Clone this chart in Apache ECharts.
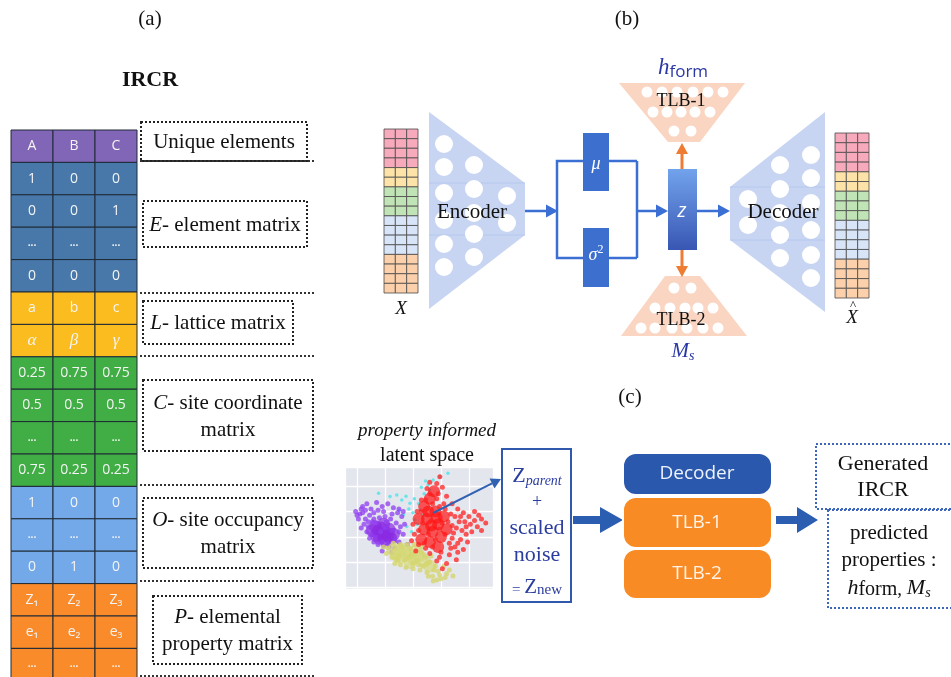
<!DOCTYPE html>
<html>
<head>
<meta charset="utf-8">
<script src="https://cdn.jsdelivr.net/npm/echarts@6/dist/echarts.min.js"></script>
<style>
  html, body { margin: 0; padding: 0; background: #fff; }
  #main { width: 951px; height: 677px; }
</style>
</head>
<body>
<div id="main"></div>
<script>
// ---------- data ----------
// (a) IRCR table, one block per matrix
const uniqueRow = [['A', 'B', 'C']];
const elementRows = [['1', '0', '0'], ['0', '0', '1'], ['...', '...', '...'], ['0', '0', '0']];
const latticeRows = [['a', 'b', 'c'], ['α', 'β', 'γ']];
const coordRows = [['0.25', '0.75', '0.75'], ['0.5', '0.5', '0.5'], ['...', '...', '...'], ['0.75', '0.25', '0.25']];
const occupancyRows = [['1', '0', '0'], ['...', '...', '...'], ['0', '1', '0']];
const propertyRows = [['Z₁', 'Z₂', 'Z₃'], ['e₁', 'e₂', 'e₃'], ['...', '...', '...']];
const matrixLabels = [
  'Unique elements',
  '{i|E-} element matrix',
  '{i|L-} lattice matrix',
  '{i|C-} site coordinate\nmatrix',
  '{i|O-} site occupancy\nmatrix',
  '{i|P-} elemental\nproperty matrix'
];
// (b) rows per colour band in X and X-hat
const bandRows = [4, 2, 3, 4, 4];
// (c) latent space scatter
const purpleCore = [[0.75,2.2],[0.9,2.05],[1.05,2.15],[0.85,2.35],[1.2,1.95],[0.65,2.4],[1.0,1.9],[1.15,2.3],[0.95,2.5],[0.8,1.95],[1.3,2.1],[0.55,2.25],[1.1,2.05],[0.7,2.05]];
const purpleSpread = [[-0.05,3.0],[0.1,2.9],[0.2,3.2],[0.35,3.3],[0.5,3.1],[0.7,3.35],[0.9,3.2],[1.1,3.3],[1.3,3.15],[1.5,3.1],[1.6,2.8],[0.3,2.7],[0.45,2.85],[0.6,2.95],[0.8,2.75],[1.0,2.8],[1.2,2.7],[1.4,2.55],[1.55,2.4],[0.25,2.5],[0.4,2.6],[0.35,2.2],[0.45,1.95],[0.6,1.8],[0.75,1.7],[0.95,1.65],[1.15,1.6],[1.35,1.55],[1.5,1.8],[1.65,2.1],[1.8,1.7],[1.25,1.4],[0.9,1.45],[0.15,2.35],[0.55,2.6],[1.05,2.6],[1.45,2.95],[0.75,3.05],
  [0.5,2.1],[0.65,2.0],[0.85,2.2],[1.0,2.35],[1.25,2.25],[0.7,2.55],[0.9,1.8],[1.1,1.75],[0.4,2.4],[1.35,1.85],[1.5,2.2],[0.6,2.7],[0.2,2.95],[0.95,3.0],[1.25,2.9],[0.3,3.05],[1.7,2.5],[0.05,2.7],[0.0,2.85],[0.15,3.1],[1.65,3.0]];
const cyanPoints = [[0.77,3.72],[1.18,3.59],[1.42,3.65],[1.6,3.45],[1.89,3.32],[2.05,3.5],[2.25,3.06],[2.0,2.95],[1.66,2.87],[2.07,2.67],[1.78,2.41],[2.54,4.04],[2.72,4.24],[2.96,4.37],[3.25,4.5],[2.4,3.7],[2.6,3.85],[1.85,3.1],[2.2,3.3],[1.5,3.05],[2.35,2.85],[2.15,2.5],[1.95,2.2],[2.45,4.2],[2.3,3.95],[1.75,3.6]];
const yellowCore = [[1.4,1.3],[1.6,1.2],[1.8,1.35],[2.0,1.15],[1.7,1.5],[2.2,1.25],[1.5,1.45],[2.4,1.05],[1.9,1.0],[2.1,1.45],[1.3,1.5],[2.6,0.85]];
const yellowSpread = [[1.1,1.55],[1.25,1.2],[1.35,0.95],[1.55,0.9],[1.75,0.8],[2.0,0.75],[2.25,0.7],[2.5,0.6],[2.7,0.45],[2.72,0.26],[2.95,0.5],[3.2,0.55],[3.43,0.46],[3.1,0.85],[2.8,0.85],[2.6,1.0],[2.4,1.3],[2.65,1.25],[2.3,1.6],[2.05,1.7],[1.8,1.7],[1.55,1.7],[1.3,1.75],[1.05,1.35],[2.9,0.65],[1.45,1.05],[1.95,1.3],[2.35,0.85],[3.3,0.7],[0.95,1.6],
  [1.5,1.25],[1.7,1.1],[1.85,1.2],[2.15,1.05],[2.3,1.4],[1.6,1.6],[2.5,0.95],[2.75,0.7],[1.4,1.15],[2.0,0.95],[2.45,1.2],[1.9,1.55],[3.0,0.35],[2.2,0.9],[2.85,0.3],[3.15,0.4],[2.55,0.45]];
const redCore = [[2.4,3.2],[2.6,3.5],[2.8,3.0],[2.5,2.7],[2.9,2.5],[3.1,2.8],[2.7,2.2],[3.0,2.0],[2.4,2.3],[2.2,2.7],[2.6,1.8],[2.9,1.6],[3.2,2.3],[2.75,3.8],[2.3,1.9],[2.55,3.0],[2.85,2.75],[2.65,2.45]];
const redSpread = [[2.96,4.37],[2.85,4.1],[2.6,4.15],[3.05,3.95],[3.2,3.6],[3.4,3.3],[3.6,3.1],[3.8,2.95],[4.0,2.8],[4.2,3.0],[4.45,2.7],[4.6,2.55],[4.3,2.4],[3.9,2.4],[3.65,2.6],[3.45,2.15],[3.7,1.9],[3.95,1.8],[3.5,1.6],[3.3,1.3],[3.55,1.1],[3.2,0.95],[3.05,0.75],[2.85,1.05],[2.6,1.35],[2.45,1.55],[2.2,1.7],[2.05,2.1],[2.0,2.5],[2.15,3.0],[2.3,3.45],[2.5,3.9],[3.35,2.9],[3.1,3.3],[3.55,2.35],[4.1,2.2],[2.1,1.45],[1.95,1.85],[3.8,1.5],[4.35,2.85],[3.3,1.75],[2.95,1.2],
  [2.3,3.0],[2.45,2.9],[2.7,3.3],[2.85,3.5],[2.95,3.2],[3.05,2.55],[3.15,2.1],[2.8,1.9],[2.55,2.1],[2.35,2.55],[2.65,2.65],[2.95,2.3],[3.25,2.6],[2.7,1.6],[3.0,1.4],[2.4,1.75],[2.2,2.25],[3.4,2.45],[3.5,2.8],[3.75,2.25],[2.9,3.7],[2.6,3.7],[3.15,3.1],[2.45,3.45],[3.4,1.95],[3.6,1.4],[3.85,2.6],[4.05,2.5],
  [3.9,2.1],[4.2,2.65],[3.6,1.75],[3.35,1.55],[3.7,2.8],[4.45,2.25]];

// ---------- styles ----------
const blockColors = ['#8165b6', '#4878a9', '#fbbc1f', '#41ad45', '#73a8e9', '#f98b2b'];
const pastelColors = ['#f7aabb', '#fde3a8', '#c1e4b7', '#d8e5f8', '#fbd0ab'];
const SERIF = '"Liberation Serif", "DejaVu Serif", serif';
const SANS = '"Open Sans", "Noto Sans", sans-serif';

// build table cells
const tableBlocks = [uniqueRow, elementRows, latticeRows, coordRows, occupancyRows, propertyRows];
const cellData = [];
const cellText = [];
let rowIdx = 0;
tableBlocks.forEach(function (block, b) {
  block.forEach(function (row) {
    row.forEach(function (t, c) {
      cellData.push([c, rowIdx, b]);
      cellText.push(t);
    });
    rowIdx++;
  });
});
const tableRowNames = Array.from({ length: rowIdx }, (_, i) => 'r' + i);

// build X / X-hat cells
const xCells = [];
let xRow = 0;
bandRows.forEach(function (n, b) {
  for (let k = 0; k < n; k++) {
    for (let c = 0; c < 3; c++) xCells.push([c, xRow, b]);
    xRow++;
  }
});
const xRowNames = Array.from({ length: xRow }, (_, i) => 'x' + i);

function tableItem(params, api) {
  const p = api.coord([api.value(0), api.value(1)]);
  const s = api.size([1, 1]);
  const b = api.value(2);
  const t = cellText[params.dataIndex];
  let font = '14px ' + SANS;
  if (t === '...') font = 'bold 10px ' + SANS;
  if (b === 2 && api.value(1) === 6) font = 'italic 17px ' + SERIF;
  return {
    type: 'group',
    children: [
      { type: 'rect', shape: { x: p[0] - s[0] / 2, y: p[1] - s[1] / 2, width: s[0], height: s[1] },
        style: { fill: blockColors[b], stroke: '#1e2a36', lineWidth: 1 } },
      { type: 'text', style: { text: t, x: p[0], y: p[1], align: 'center', verticalAlign: 'middle',
        fill: '#f4f4f4', font: font } }
    ]
  };
}

function xItem(params, api) {
  const p = api.coord([api.value(0), api.value(1)]);
  const s = api.size([1, 1]);
  return {
    type: 'rect',
    shape: { x: p[0] - s[0] / 2, y: p[1] - s[1] / 2, width: s[0], height: s[1] },
    style: { fill: pastelColors[api.value(2)], stroke: '#4a4a4a', lineWidth: 0.8 }
  };
}

// ---------- graphic helpers ----------
const G = [];
function txt(str, x, y, font, fill, extra) {
  G.push({ type: 'text', z: 20, style: Object.assign({ text: str, x: x, y: y, font: font, fill: fill || '#111',
    align: 'center', verticalAlign: 'middle' }, extra || {}) });
}
function box(x, y, w, h, stroke, dash, r) {
  G.push({ type: 'rect', z: 5, shape: { x: x, y: y, width: w, height: h, r: r || 0 },
    style: { fill: 'none', stroke: stroke, lineWidth: 2, lineDash: dash } });
}
function fillRect(x, y, w, h, fill, r, z) {
  G.push({ type: 'rect', z: z || 5, shape: { x: x, y: y, width: w, height: h, r: r || 0 }, style: { fill: fill, stroke: '#fff', lineWidth: r ? 2 : 0 } });
}
function poly(points, fill, z) {
  G.push({ type: 'polygon', z: z || 3, shape: { points: points }, style: { fill: fill } });
}
function dots(list, r, fill) {
  list.forEach(function (d) { G.push({ type: 'circle', z: 4, shape: { cx: d[0], cy: d[1], r: r }, style: { fill: fill } }); });
}
function seg(x1, y1, x2, y2, stroke, w, dash, z) {
  G.push({ type: 'line', z: z || 6, shape: { x1: x1, y1: y1, x2: x2, y2: y2 }, style: { stroke: stroke, lineWidth: w, lineDash: dash } });
}
function polyline(points, stroke, w) {
  G.push({ type: 'polyline', z: 6, shape: { points: points }, style: { stroke: stroke, lineWidth: w, fill: 'none' } });
}
function arrow(x1, y1, x2, y2, color, w, head, z) {
  const a = Math.atan2(y2 - y1, x2 - x1);
  const bx = x2 - Math.cos(a) * head, by = y2 - Math.sin(a) * head;
  seg(x1, y1, bx, by, color, w, null, z);
  const hw = head * 0.55;
  poly([[x2, y2], [bx - Math.sin(a) * hw, by + Math.cos(a) * hw], [bx + Math.sin(a) * hw, by - Math.cos(a) * hw]], color, z || 6);
}

// ---------- (a) ----------
txt('(a)', 150, 19, '21px ' + SERIF);
txt('IRCR', 150, 80, 'bold 22px ' + SERIF);
const labelBoxes = [[141, 122, 166, 39], [143, 201, 164, 46], [143, 301, 150, 43], [143, 380, 170, 71], [143, 498, 170, 70], [153, 596, 149, 68]];
labelBoxes.forEach(function (bx, i) {
  box(bx[0], bx[1], bx[2], bx[3], '#222', [2, 2]);
  txt(matrixLabels[i], bx[0] + bx[2] / 2, bx[1] + bx[3] / 2 + 1, '21px ' + SERIF, '#111',
    { lineHeight: 27, rich: { i: { font: 'italic 21px ' + SERIF, fill: '#111' } } });
});
[161, 293, 356, 485, 581, 676].forEach(function (y) { seg(140, y, 316, y, '#333', 2, [2, 2]); });

// ---------- (b) ----------
txt('(b)', 627, 19, '21px ' + SERIF);
const ENC = '#c7d5f2';
poly([[429, 112], [525, 183], [525, 235], [429, 309]], ENC);
seg(429, 183, 525, 183, '#b6c8ee', 1, null, 3);
seg(429, 235, 525, 235, '#b6c8ee', 1, null, 3);
dots([[444, 144], [444, 167], [444, 193], [444, 220], [444, 244], [444, 267],
  [474, 165], [474, 189], [474, 213], [474, 234], [474, 257], [507, 196], [507, 223]], 9, '#fff');
txt('Encoder', 472, 212, '21px ' + SERIF);

poly([[730, 187], [825, 112], [825, 312], [730, 240]], ENC);
seg(730, 187, 825, 187, '#b6c8ee', 1, null, 3);
seg(730, 240, 825, 240, '#b6c8ee', 1, null, 3);
dots([[748, 199], [748, 225], [780, 165], [780, 189], [780, 213], [780, 235], [780, 258],
  [811, 155], [811, 178], [811, 203], [811, 230], [811, 255], [811, 278]], 9, '#fff');
txt('Decoder', 783, 212, '21px ' + SERIF);

const BLUE = '#3b6fd4';
arrow(525, 211, 558, 211, BLUE, 2.5, 12);
polyline([[637, 161], [557, 161], [557, 258], [637, 258]], BLUE, 2.5);
seg(637, 161, 637, 258, BLUE, 2.5);
arrow(637, 211, 668, 211, BLUE, 2.5, 12);
fillRect(583, 133, 26, 58, '#3d6fcf', 0, 7);
fillRect(583, 228, 26, 59, '#3d6fcf', 0, 7);
txt('μ', 596, 164, 'italic 18px ' + SERIF, '#fff');
txt('{s|σ}{p|2}', 596, 255, 'italic 18px ' + SERIF, '#fff',
  { rich: { s: { font: 'italic 18px ' + SERIF, fill: '#fff' }, p: { font: '12px ' + SERIF, fill: '#fff', verticalAlign: 'top', lineHeight: 22 } } });
G.push({ type: 'rect', z: 7, shape: { x: 668, y: 169, width: 29, height: 81 },
  style: { fill: new echarts.graphic.LinearGradient(0, 0, 0, 1, [{ offset: 0, color: '#72a3ec' }, { offset: 1, color: '#3856b3' }]) } });
txt('z', 682, 211, 'italic 20px ' + SANS, '#fff');
arrow(697, 211, 730, 211, BLUE, 2.5, 12);

const ORANGE = '#ee7d33';
arrow(682, 169, 682, 143, ORANGE, 3, 11);
arrow(682, 250, 682, 277, ORANGE, 3, 11);

const PEACH = '#fad5c1';
poly([[619, 83], [745, 83], [700, 142], [668, 142]], PEACH);
dots([[647, 92], [662, 92], [677, 92], [693, 92], [708, 92], [723, 92],
  [653, 112], [667, 112], [681, 112], [695, 112], [710, 112], [674, 131], [691, 131]], 5.5, '#fff');
txt('TLB-1', 681, 101, '18px ' + SERIF);
poly([[665, 276], [700, 276], [747, 336], [621, 336]], PEACH);
dots([[674, 288], [691, 288], [655, 308], [670, 308], [685, 308], [698, 308], [713, 308],
  [641, 328], [655, 328], [672, 328], [687, 328], [703, 328], [718, 328]], 5.5, '#fff');
txt('TLB-2', 681, 320, '18px ' + SERIF);

const NAVY = '#2a37a6';
txt('{i|h}{s|form}', 683, 68, '20px ' + SERIF, NAVY,
  { rich: { i: { font: 'italic 23px ' + SERIF, fill: NAVY, lineHeight: 26 }, s: { font: '17px ' + SANS, fill: NAVY, verticalAlign: 'bottom', lineHeight: 18 } } });
txt('{i|M}{s|s}', 683, 351, '20px ' + SERIF, NAVY,
  { rich: { i: { font: 'italic 21px ' + SERIF, fill: NAVY, lineHeight: 24 }, s: { font: 'italic 14px ' + SERIF, fill: NAVY, verticalAlign: 'bottom', lineHeight: 14 } } });
txt('X', 401, 309, 'italic 19px ' + SERIF);
txt('X', 852, 318, 'italic 19px ' + SERIF);
txt('^', 853, 306, '13px ' + SERIF);

// ---------- (c) ----------
txt('(c)', 630, 397, '21px ' + SERIF);
txt('property informed', 427, 431, 'italic 19px ' + SERIF);
txt('latent space', 427, 456, '20px ' + SERIF);
const ZBLUE = '#2b3d9f';
box(502, 449, 69, 153, '#3058ad', null);
txt('{z|Z}{p|parent}', 537, 476, '20px ' + SERIF, ZBLUE,
  { rich: { z: { font: '22px ' + SERIF, fill: ZBLUE, lineHeight: 24 }, p: { font: 'italic 14px ' + SERIF, fill: ZBLUE, verticalAlign: 'bottom', lineHeight: 14 } } });
txt('+', 537, 502, '18px ' + SERIF, ZBLUE);
txt('scaled', 537, 528, '22px ' + SERIF, ZBLUE);
txt('noise', 537, 555, '22px ' + SERIF, ZBLUE);
txt('{e|= }{z|Z}{n|new}', 537, 587, '20px ' + SERIF, ZBLUE,
  { rich: { e: { font: '15px ' + SERIF, fill: ZBLUE, verticalAlign: 'bottom', lineHeight: 16 }, z: { font: '21px ' + SERIF, fill: ZBLUE, lineHeight: 22 }, n: { font: '15px ' + SERIF, fill: ZBLUE, verticalAlign: 'bottom', lineHeight: 14 } } });
arrow(433, 513, 501, 479, '#3162b2', 2, 10, 30);

const BIGBLUE = '#2b5db1';
poly([[573, 516], [600, 516], [600, 507], [623, 520], [600, 533], [600, 524], [573, 524]], BIGBLUE);
poly([[776, 516], [797, 516], [797, 507], [818, 520], [797, 533], [797, 524], [776, 524]], BIGBLUE);
fillRect(623, 453, 149, 42, '#2a58ad', 13, 5);
fillRect(623, 497, 149, 51, '#f98b24', 13, 6);
fillRect(623, 549, 149, 50, '#f98b24', 13, 7);
txt('Decoder', 697, 474, '19px ' + SANS, '#eef2fa');
txt('TLB-1', 697, 523, '19px ' + SANS, '#fff3e8');
txt('TLB-2', 697, 574, '19px ' + SANS, '#fff3e8');

box(816, 444, 137, 65, '#3f66bd', [2, 2]);
txt('Generated\nIRCR', 883, 477, '22px ' + SERIF, '#111', { lineHeight: 26 });
box(828, 510, 125, 98, '#3f66bd', [2, 2]);
txt('predicted', 889, 533, '21px ' + SERIF);
txt('properties :', 889, 560, '21px ' + SERIF);
txt('{i|h}{s|form}{c|, }{i|M}{ss|s}', 889, 588, '20px ' + SERIF, '#111',
  { rich: { i: { font: 'italic 22px ' + SERIF, lineHeight: 24 }, s: { font: '20px ' + SERIF, verticalAlign: 'bottom', lineHeight: 18 },
    c: { font: '19px ' + SERIF, verticalAlign: 'bottom', lineHeight: 20 }, ss: { font: 'italic 14px ' + SERIF, verticalAlign: 'bottom', lineHeight: 14 } } });

// ---------- chart ----------
const chart = echarts.init(document.getElementById('main'));
function hiddenCat(gridIndex, data, inverse) {
  return { type: 'category', gridIndex: gridIndex, data: data, inverse: !!inverse, show: false };
}
function scatterSeries(data, color, size, opacity) {
  return { type: 'scatter', xAxisIndex: 3, yAxisIndex: 3, data: data, symbolSize: size, silent: true,
    itemStyle: { color: color, opacity: opacity } };
}
chart.setOption({
  animation: false,
  grid: [
    { left: 11, top: 130, width: 126, height: 32.4 * tableRowNames.length, outerBoundsMode: 'none' },
    { left: 384, top: 129, width: 34, height: 164, outerBoundsMode: 'none' },
    { left: 835, top: 133, width: 34, height: 165, outerBoundsMode: 'none' },
    { left: 345, top: 467, width: 148, height: 122, show: true, backgroundColor: '#e4e6ee', borderWidth: 0, outerBoundsMode: 'none' }
  ],
  xAxis: [
    hiddenCat(0, ['c1', 'c2', 'c3']),
    hiddenCat(1, ['c1', 'c2', 'c3']),
    hiddenCat(2, ['c1', 'c2', 'c3']),
    { type: 'value', gridIndex: 3, min: -0.43, max: 4.86, axisLine: { show: false }, axisTick: { show: false },
      axisLabel: { show: false }, splitLine: { show: true, lineStyle: { color: '#ffffff', width: 1.3 } } }
  ],
  yAxis: [
    hiddenCat(0, tableRowNames, true),
    hiddenCat(1, xRowNames, true),
    hiddenCat(2, xRowNames, true),
    { type: 'value', gridIndex: 3, min: -0.05, max: 4.75, axisLine: { show: false }, axisTick: { show: false },
      axisLabel: { show: false }, splitLine: { show: true, lineStyle: { color: '#ffffff', width: 1.3 } } }
  ],
  series: [
    { type: 'custom', xAxisIndex: 0, yAxisIndex: 0, data: cellData, renderItem: tableItem, silent: true },
    { type: 'custom', xAxisIndex: 1, yAxisIndex: 1, data: xCells, renderItem: xItem, silent: true },
    { type: 'custom', xAxisIndex: 2, yAxisIndex: 2, data: xCells, renderItem: xItem, silent: true },
    scatterSeries(cyanPoints, '#55e3e6', 3.5, 0.85),
    scatterSeries(purpleCore, '#8a2be2', 13, 0.7),
    scatterSeries(purpleSpread, '#8f3df0', 5, 0.75),
    scatterSeries(yellowCore, '#d6d977', 13, 0.7),
    scatterSeries(yellowSpread, '#d4d66e', 5, 0.8),
    scatterSeries(redCore, '#ff1414', 12, 0.7),
    scatterSeries(redSpread, '#ff2020', 5, 0.75)
  ],
  graphic: { elements: G }
});
</script>
</body>
</html>
